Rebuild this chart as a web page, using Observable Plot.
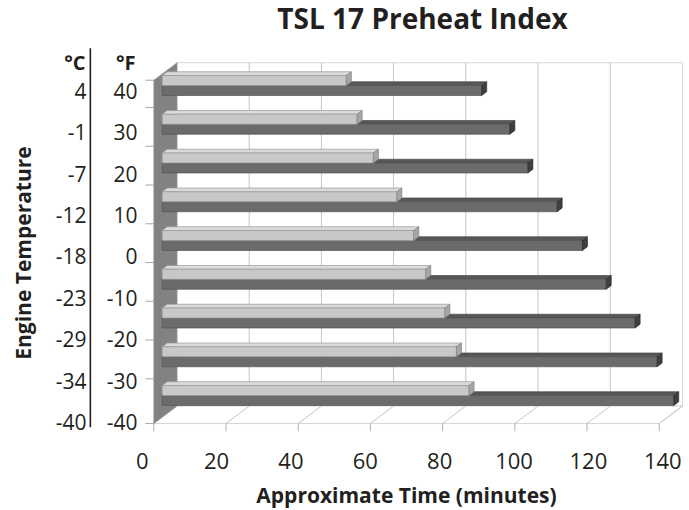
<!DOCTYPE html>
<html>
<head>
<meta charset="utf-8">
<script src="https://cdn.jsdelivr.net/npm/d3@7"></script>
<script src="https://cdn.jsdelivr.net/npm/@observablehq/plot@0.6"></script>
<style>
  html, body { margin: 0; padding: 0; background: #fff; }
  #chart svg { display: block; }
</style>
</head>
<body>
<div id="chart"></div>
<script>
// ---------------- data ----------------
const title = "TSL 17 Preheat Index";
const xTitle = "Approximate Time (minutes)";
const yTitle = "Engine Temperature";
const tempsF = [40, 30, 20, 10, 0, -10, -20, -30, -40];
const fLabels = ["40", "30", "20", "10", "0", "-10", "-20", "-30", "-40"];
const cLabels = ["4", "-1", "-7", "-12", "-18", "-23", "-29", "-34", "-40"];
const lightTimes = [51, 54, 58.5, 65, 69.7, 73, 78.3, 81.5, 85];
const darkTimes = [88.5, 96.3, 101.3, 109.4, 116.4, 123, 131, 137.1, 141.7];
const xTicks = [0, 20, 40, 60, 80, 100, 120, 140];

// ---------------- pseudo-3D geometry (data units) ----------------
const XD = 6.43, YD = -0.4516;   // shift of full depth in x (minutes) / y (category) units
const F0 = 0.362, TH = 0.215;    // depth of bar front face, bar thickness
const BH = 0.258;                // bar height (category units)
const cTop = -0.3, cBot = 8.56, vMax = 140;
const P = (v, c, d) => ({x: v + (d - F0) * XD, y: c + (d - F0) * YD});
const poly = (id, pts) => pts.concat([pts[0]]).map(p => ({id, ...p}));

const backWall = poly("bw", [P(0, cTop, 1), P(vMax, cTop, 1), P(vMax, cBot, 1), P(0, cBot, 1)]);
const floor = poly("fl", [P(0, cBot, 0), P(vMax, cBot, 0), P(vMax, cBot, 1), P(0, cBot, 1)]);
const leftWall = poly("lw", [P(0, cTop, 0), P(0, cTop, 1), P(0, cBot, 1), P(0, cBot, 0)]);
const backGrid = xTicks.filter(v => v > 0 && v < vMax).map(v => ({a: P(v, cTop, 1), b: P(v, cBot, 1)}));
const floorGrid = xTicks.map(v => ({a: P(v, cBot, 0), b: P(v, cBot, 1)}));
const xTickMarks = xTicks.map(v => ({a: P(v, cBot, 0), b: P(v, cBot + 0.2, 0)}));
const yTickC = [cTop, ...d3.range(0, 8).map(k => k + 0.405), cBot];
const yTickMarks = yTickC.map(c => ({a: P(-2.3, c, 0), b: P(0, c, 0)}));

function barFaces(values, c0, c1) {
  const top = [], front = [], cap = [];
  values.forEach((v, k) => {
    const a = c0 + k, b = c1 + k;
    top.push(...poly("t" + k, [P(0, a, F0), P(v, a, F0), P(v, a, F0 + TH), P(0, a, F0 + TH)]));
    front.push(...poly("f" + k, [P(0, a, F0), P(v, a, F0), P(v, b, F0), P(0, b, F0)]));
    cap.push(...poly("c" + k, [P(v, a, F0), P(v, a, F0 + TH), P(v, b, F0 + TH), P(v, b, F0)]));
  });
  return {top, front, cap};
}
const light = barFaces(lightTimes, -BH, 0);
const dark = barFaces(darkTimes, 0, BH);

// label layout (tick labels of the original are spread slightly wider than the floor ticks)
const LY0 = 0.173, LSTEP = 1.068;
const XL_SPREAD = 1.03, XL_SHIFT = -5.54;
const txt = "#231f20";
const face = (data, fill, stroke) =>
  Plot.line(data, {x: "x", y: "y", z: "id", fill, stroke, strokeWidth: 0.7, strokeLinejoin: "round"});
const link = (data, stroke, w = 1) =>
  Plot.link(data, {x1: d => d.a.x, y1: d => d.a.y, x2: d => d.b.x, y2: d => d.b.y, stroke, strokeWidth: w});
const label = (s, opts) =>
  Plot.text([s], {text: d => d, frameAnchor: "top-left", textAnchor: "middle", lineAnchor: "middle", fill: txt, ...opts});

const chart = Plot.plot({
  width: 689,
  height: 510,
  margin: 0,
  x: {domain: [0, 140], range: [161.7, 161.7 + 140 * 3.61], axis: null},
  y: {domain: [0, 8], range: [85, 395], axis: null},
  style: {fontFamily: "'Open Sans', 'DejaVu Sans', sans-serif", color: txt, background: "#fff"},
  marks: [
    face(backWall, "#fff", "#c4c4c4"),
    link(backGrid, "#c4c4c4"),
    face(floor, "#fff", "#c4c4c4"),
    link(floorGrid, "#c4c4c4"),
    link(xTickMarks, "#b0b0b0"),
    face(leftWall, "#828282", "#9a9a9a"),
    link(yTickMarks, "#a8a8a8"),
    face(dark.top, "#575757", "#4a4a4a"),
    face(dark.front, "#6b6b6b", "#555555"),
    face(dark.cap, "#3e3e3e", "#2e2e2e"),
    face(light.top, "#dadada", "#9a9a9a"),
    face(light.front, "#c8c8c8", "#9a9a9a"),
    face(light.cap, "#a6a6a6", "#808080"),
    // divider between °C and °F columns
    Plot.ruleX([-19.9], {y1: -0.95, y2: 8.83, stroke: "#231f20", strokeWidth: 1.6}),
    // column headers
    label("°C", {dx: 85, dy: 63, textAnchor: "end", fontSize: 20, fontWeight: "bold"}),
    label("°F", {dx: 135, dy: 63, textAnchor: "end", fontSize: 20, fontWeight: "bold"}),
    // temperature labels
    Plot.text(fLabels, {text: d => d, y: (d, i) => LY0 + i * LSTEP, frameAnchor: "left", dx: 137, textAnchor: "end", lineAnchor: "middle", fontSize: 21, fill: txt}),
    Plot.text(cLabels, {text: d => d, y: (d, i) => LY0 + i * LSTEP, frameAnchor: "left", dx: 86, textAnchor: "end", lineAnchor: "middle", fontSize: 21, fill: txt}),
    // x tick labels
    Plot.text(xTicks, {text: d => String(d), x: d => d * XL_SPREAD + XL_SHIFT, frameAnchor: "bottom", dy: -48.5, textAnchor: "middle", lineAnchor: "middle", fontSize: 22, fill: txt}),
    // titles
    label(title, {dx: 422, dy: 19.5, fontSize: 28, fontWeight: "bold"}),
    label(xTitle, {dx: 406, dy: 495.5, fontSize: 21, fontWeight: "bold"}),
    label(yTitle, {dx: 24, dy: 252.5, rotate: -90, fontSize: 21, fontWeight: "bold"})
  ]
});
document.getElementById("chart").appendChild(chart);
</script>
</body>
</html>
